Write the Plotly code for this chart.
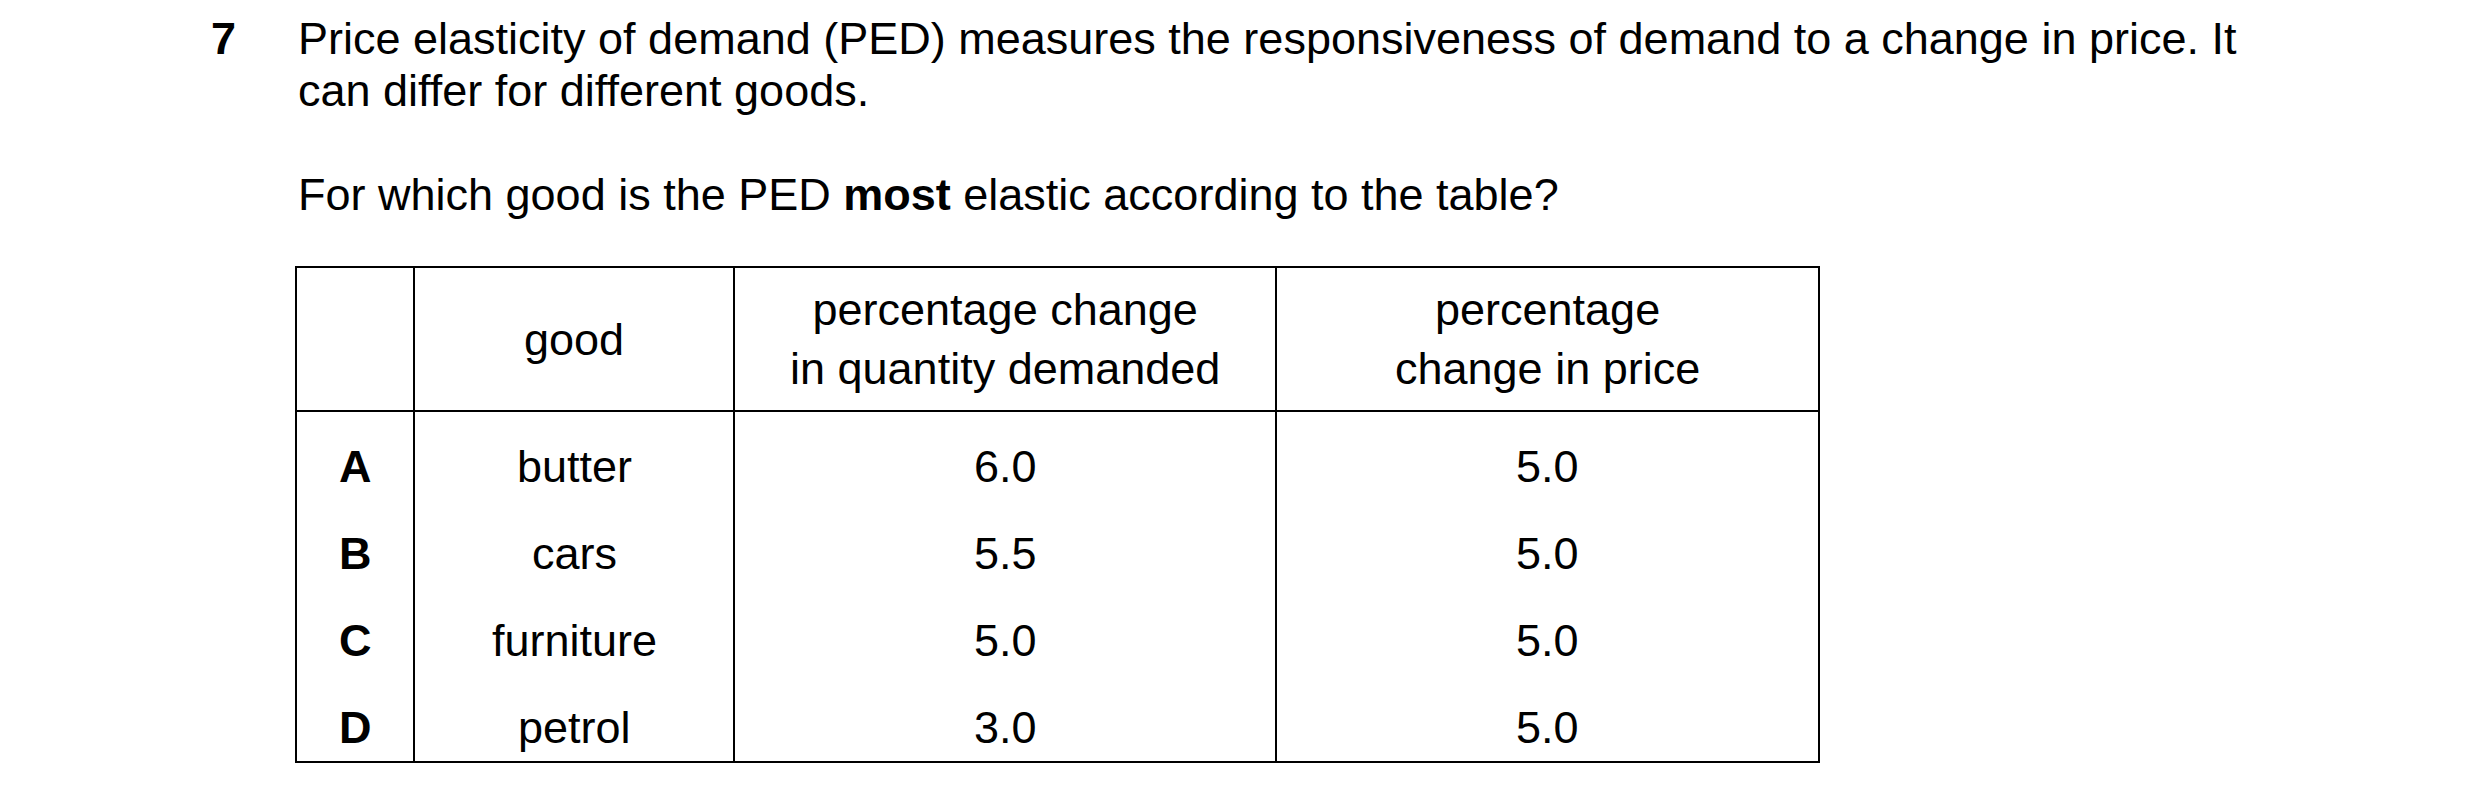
import plotly.graph_objects as go

# table contents
options = ["A", "B", "C", "D"]
goods = ["butter", "cars", "furniture", "petrol"]
qty_change = ["6.0", "5.5", "5.0", "3.0"]
price_change = ["5.0", "5.0", "5.0", "5.0"]
headers = ["", "good", "percentage change<br>in quantity demanded", "percentage<br>change in price"]

question_no = "7"
intro = ["Price elasticity of demand (PED) measures the responsiveness of demand to a change in price. It",
         "can differ for different goods."]
question = "For which good is the PED <b>most</b> elastic according to the table?"

FONT = "Liberation Sans, Arial, sans-serif"
FS = 45
W, H = 2480, 805

col_edges = [288, 406, 726, 1268, 1811]
row_top, head_bot, row_bot = 259, 403, 754
row_y = [458, 545, 632, 719]

fig = go.Figure()
ann = []

def txt(x, y, s, anchor="center", size=FS):
    ann.append(dict(x=x, y=y, text=s, showarrow=False, xanchor=anchor, yanchor="middle",
                    font=dict(family=FONT, size=size, color="black"), align="center"))

txt(201, 30, "<b>" + question_no + "</b>", "left")
txt(288, 30, intro[0], "left")
txt(288, 82, intro[1], "left")
txt(288, 186, question, "left")

centers = [(col_edges[i] + col_edges[i + 1]) / 2 for i in range(4)]
for c, h in zip(centers, headers):
    if h:
        txt(c, (row_top + head_bot) / 2, h)
for i in range(len(options)):
    txt(centers[0], row_y[i], "<b>" + options[i] + "</b>")
    txt(centers[1], row_y[i], goods[i])
    txt(centers[2], row_y[i], qty_change[i])
    txt(centers[3], row_y[i], price_change[i])

shapes = [dict(type="rect", x0=col_edges[0], x1=col_edges[-1], y0=row_top, y1=row_bot,
               line=dict(color="black", width=2))]
shapes.append(dict(type="line", x0=col_edges[0], x1=col_edges[-1], y0=head_bot, y1=head_bot,
                   line=dict(color="black", width=2)))
for x in col_edges[1:-1]:
    shapes.append(dict(type="line", x0=x, x1=x, y0=row_top, y1=row_bot, line=dict(color="black", width=2)))

fig.update_layout(width=W, height=H, margin=dict(l=0, r=0, t=0, b=0),
                  plot_bgcolor="white", paper_bgcolor="white",
                  xaxis=dict(range=[0, W], visible=False),
                  yaxis=dict(range=[H, 0], visible=False),
                  annotations=ann, shapes=shapes, showlegend=False)

fig.write_html("out.html")
